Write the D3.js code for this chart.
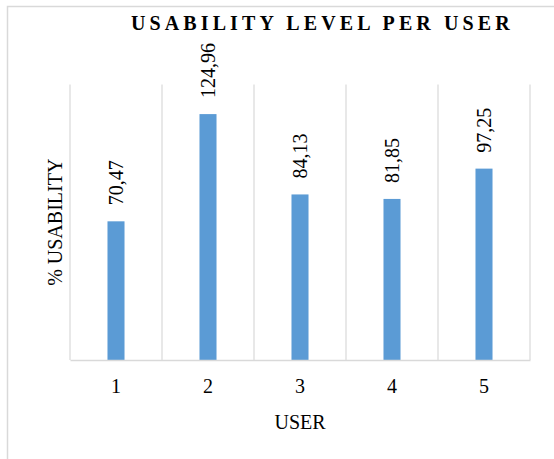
<!DOCTYPE html>
<html>
<head>
<meta charset="utf-8">
<script src="https://cdn.jsdelivr.net/npm/d3@7"></script>
<style>
  html, body { margin: 0; padding: 0; background: #fff; }
  svg { display: block; }
  svg text { font-family: "Liberation Serif", "Times New Roman", serif; }
</style>
</head>
<body>
<div id="chart"></div>
<script>
// Chart data
const users = ["1", "2", "3", "4", "5"];
const usability = [70.47, 124.96, 84.13, 81.85, 97.25];
const yDomain = [0, 140];

const chartTitle = "USABILITY LEVEL PER USER";
const xTitle = "USER";
const yTitle = "% USABILITY";

const formatValue = (v) => v.toFixed(2).replace(".", ",");

// Dimensions
const width = 554;
const height = 459;
const plot = { left: 70, right: 530, top: 84.5, bottom: 360 };

const svg = d3.select("#chart")
    .append("svg")
    .attr("width", width)
    .attr("height", height);

// Outer chart border (cut off at right and bottom)
svg.append("rect")
    .attr("x", 7.5)
    .attr("y", 6.5)
    .attr("width", 600)
    .attr("height", 500)
    .attr("fill", "none")
    .attr("stroke", "#d9d9d9")
    .attr("stroke-width", 1.5);

// Scales
const xScale = d3.scaleBand()
    .domain(users)
    .range([plot.left, plot.right])
    .padding(0);

const yScale = d3.scaleLinear()
    .domain(yDomain)
    .range([plot.bottom, plot.top]);

// Vertical gridlines at category boundaries
const boundaries = users.map(u => xScale(u)).concat([xScale.range()[1]]);
svg.append("g")
    .selectAll("line")
    .data(boundaries)
    .enter()
    .append("line")
    .attr("x1", d => d)
    .attr("x2", d => d)
    .attr("y1", yScale(yDomain[1]))
    .attr("y2", yScale(0))
    .attr("stroke", "#d9d9d9")
    .attr("stroke-width", 1.2);

// Bars
const barWidth = xScale.bandwidth() * 0.185;
const data = users.map((u, i) => ({ user: u, value: usability[i] }));

svg.append("g")
    .selectAll("rect")
    .data(data)
    .enter()
    .append("rect")
    .attr("x", d => xScale(d.user) + xScale.bandwidth() / 2 - barWidth / 2)
    .attr("y", d => yScale(d.value))
    .attr("width", barWidth)
    .attr("height", d => yScale(0) - yScale(d.value))
    .attr("fill", "#5b9bd5");

// Value labels, rotated
svg.append("g")
    .selectAll("text")
    .data(data)
    .enter()
    .append("text")
    .attr("transform", d => {
        const cx = xScale(d.user) + xScale.bandwidth() / 2 + 6.5;
        const cy = yScale(d.value) - 16;
        return `translate(${cx},${cy}) rotate(-90)`;
    })
    .attr("text-anchor", "start")
    .attr("font-size", 20)
    .attr("fill", "#000")
    .text(d => formatValue(d.value));

// X axis (line + tick labels)
const xAxis = d3.axisBottom(xScale).tickSize(0).tickPadding(0);
const xAxisG = svg.append("g")
    .attr("transform", `translate(0,${plot.bottom})`)
    .call(xAxis)
    .attr("font-family", null);
xAxisG.select(".domain")
    .attr("stroke", "#d9d9d9")
    .attr("stroke-width", 1.5);
xAxisG.selectAll("text")
    .attr("font-size", 20)
    .attr("fill", "#000")
    .attr("dy", 0)
    .attr("y", 33);

// Axis titles
svg.append("text")
    .attr("x", (plot.left + plot.right) / 2)
    .attr("y", 429)
    .attr("text-anchor", "middle")
    .attr("font-size", 20)
    .text(xTitle);

svg.append("text")
    .attr("transform", `translate(62,${(plot.top + plot.bottom) / 2}) rotate(-90)`)
    .attr("text-anchor", "middle")
    .attr("font-size", 20)
    .text(yTitle);

// Chart title
svg.append("text")
    .attr("x", 131)
    .attr("y", 30)
    .attr("text-anchor", "start")
    .attr("font-size", 20)
    .attr("font-weight", "bold")
    .attr("letter-spacing", 4.1)
    .text(chartTitle);
</script>
</body>
</html>
